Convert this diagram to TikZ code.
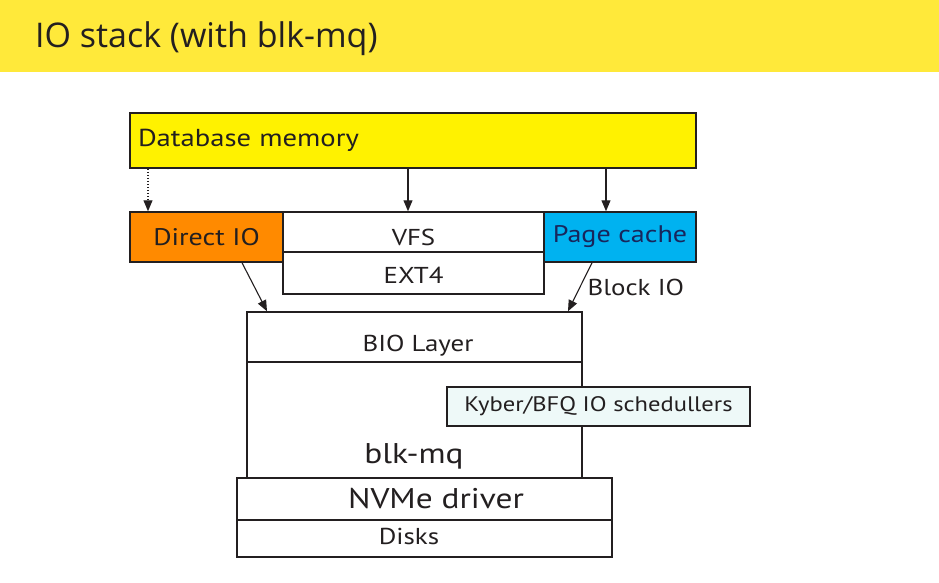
\documentclass[tikz,border=0pt]{standalone}
\usepackage{fontspec}
\setmainfont{PT Sans}[FakeStretch=1.17]
\newfontfamily\titlefont{Open Sans}
\usepackage{xcolor}
\usepackage{tikz}
\usetikzlibrary{arrows.meta}
\definecolor{titlebar}{HTML}{FFE93A}
\definecolor{dbyellow}{HTML}{FFF200}
\definecolor{dioorange}{HTML}{FF8A00}
\definecolor{pcblue}{HTML}{00B2F0}
\definecolor{pctext}{HTML}{18265C}
\definecolor{kybfill}{HTML}{EEF9F8}
\definecolor{ink}{HTML}{231F20}
\newcommand{\fs}[1]{\fontsize{#1}{#1}\selectfont}
\tikzstyle{layer}=[rectangle,draw=ink,line width=1.5pt,inner sep=0pt,text=ink]
\tikzstyle{edge} = [draw,line width=1.1pt,ink,-{Triangle[length=11pt,width=9pt]}]
\tikzstyle{dottededge} = [edge,dash pattern=on 1.5pt off 1.5pt]
\tikzstyle{weight} = [font=\fs{23},text=ink]
\tikzset{drop/.style={text height=#1,text depth=0pt},
         nodrop/.style={},
         vfsdrop/.style={drop=26pt}, extdrop/.style={drop=20pt},
         biodrop/.style={drop=29pt}, diskdrop/.style={drop=12pt}}

\begin{document}
\begin{tikzpicture}[x=1pt,y=-1pt]
  \useasboundingbox (0,0) rectangle (939,582);

  % title bar
  \fill[titlebar] (0,0) rectangle (939,72);
  \node[anchor=base west, font=\titlefont\fs{34}, text=ink, inner sep=0pt] (title) at (35,47) {IO stack (with blk-mq)};

  \node[layer, fill=dbyellow, minimum width=566pt, minimum height=55pt, text width=550pt, align=left, font=\fs{24.5}] (db) at (413,140.5) {Database memory};

  \foreach \x/\y/\w/\h/\name/\label/\fcol/\sz/\opt in {
          206.5/237/153/50/dio/Direct IO/dioorange/24/nodrop,
          413.5/232/261/40/vfs/VFS/white/23/vfsdrop,
          413.5/273/261/42/ext/EXT4/white/23/extdrop,
          620/237/152/50/pc/{\color{pctext}Page cache}/pcblue/24/nodrop,
          414.5/337/335/50/bio/{\hspace{7pt}BIO Layer}/white/23/biodrop,
          414.5/420/335/116/blk/{}/white/23/nodrop}
          \node[layer, fill=\fcol, minimum width=\w pt, minimum height=\h pt, font=\fs{\sz}, \opt] (\name) at (\x,\y) {\label};

  \node[anchor=base, font=\fs{28.5}, text=ink, inner sep=0pt] (blktext) at (414,463) {blk-mq};

  \foreach \x/\y/\w/\h/\name/\label/\fcol/\sz/\opt in {
          598.5/406.5/303/39/kyb/{Kyber/BFQ IO schedullers}/kybfill/21/nodrop,
          424.5/499/375/42/nvme/{\hspace{23pt}NVMe driver}/white/28.5/nodrop,
          424.5/538.5/375/37/disk/{Disks\hspace*{31pt}}/white/23/diskdrop}
          \node[layer, fill=\fcol, minimum width=\w pt, minimum height=\h pt, font=\fs{\sz}, \opt] (\name) at (\x,\y) {\label};

  \foreach \x/\name in {148/c1, 408/c2, 606/c3, 242/c4, 267/c5, 592/c6, 568/c7}
          \coordinate (\name) at (\x,0);

  \path[dottededge] (db.south -| c1) -- (dio.north -| c1);
  \foreach \source/\dest/\a/\b in {db/vfs/c2/c2, db/pc/c3/c3, dio/bio/c4/c5}
          \path[edge] (\source.south -| \a) -- (\dest.north -| \b);
  \path[edge] (pc.south -| c6) -- node[weight, right, inner sep=7pt] {Block IO} (bio.north -| c7);

\end{tikzpicture}
\end{document}
